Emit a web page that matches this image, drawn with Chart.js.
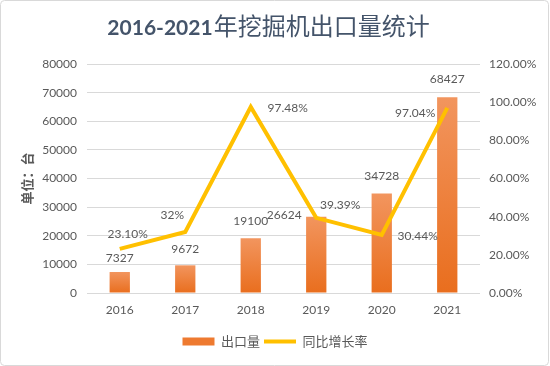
<!DOCTYPE html>
<html>
<head>
<meta charset="utf-8">
<script src="https://cdn.jsdelivr.net/npm/chart.js@4/dist/chart.umd.min.js"></script>
<style>
html,body{margin:0;padding:0;background:#ffffff;}
#wrap{width:550px;height:366px;}
canvas{display:block;}
</style>
</head>
<body>
<div id="wrap"><canvas id="c" width="550" height="366"></canvas></div>
<script>
// ---- data ----
const categories = ['2016', '2017', '2018', '2019', '2020', '2021'];
const exportVolume = [7327, 9672, 19100, 26624, 34728, 68427];
const growthRate = [23.10, 32, 97.48, 39.39, 30.44, 97.04];
const growthLabels = ['23.10%', '32%', '97.48%', '39.39%', '30.44%', '97.04%'];
const seriesNames = ['出口量', '同比增长率'];
const titleParts = ['2016-2021', '年挖掘机出口量统计'];
const yAxisTitle = '单位：台';

// ---- styling ----
const FONT = "Lato, 'Noto Sans CJK SC', sans-serif";
const TXT = '#595959';
const barLabelOffsets = [[0, -14], [0, -16], [0, -17], [-32, -2], [0, -17], [0, -18]];
const lineLabelOffsets = [[8, -15], [-13, -17], [37, 1], [24, -13], [36, 1], [-32, 5]];

const labelPlugin = {
  id: 'valueLabels',
  afterDatasetsDraw(chart) {
    const c = chart.ctx;
    c.save();
    c.font = '12px ' + FONT;
    c.fillStyle = TXT;
    c.textAlign = 'center';
    c.textBaseline = 'middle';
    chart.getDatasetMeta(0).data.forEach((el, i) => {
      const [dx, dy] = barLabelOffsets[i];
      c.fillText(String(exportVolume[i]), el.x + dx, el.y + dy);
    });
    chart.getDatasetMeta(1).data.forEach((el, i) => {
      const [dx, dy] = lineLabelOffsets[i];
      c.fillText(growthLabels[i], el.x + dx, el.y + dy);
    });
    c.restore();
  }
};

const titleFramePlugin = {
  id: 'titleFrame',
  afterDraw(chart) {
    const c = chart.ctx;
    c.save();
    c.strokeStyle = '#D9D9D9';
    c.lineWidth = 1;
    c.beginPath();
    if (c.roundRect) c.roundRect(0.5, 0.5, 548, 365, 4); else c.rect(0.5, 0.5, 548, 365);
    c.stroke();
    c.fillStyle = '#44546A';
    c.textBaseline = 'alphabetic';
    c.textAlign = 'left';
    const f1 = "bold 21px Lato, 'Noto Sans CJK SC', sans-serif";
    const f2 = "24px 'Noto Sans CJK SC', sans-serif";
    c.font = f1; const w1 = c.measureText(titleParts[0]).width;
    c.font = f2; const w2 = c.measureText(titleParts[1]).width;
    let x = 268 - (w1 + w2) / 2;
    c.font = f1; c.fillText(titleParts[0], x, 35);
    c.font = f2; c.fillText(titleParts[1], x + w1 + 1, 35);
    c.restore();
  }
};

function barGradient(ctx) {
  const chart = ctx.chart;
  if (!chart.chartArea || ctx.type !== 'data') return '#EE7A30';
  const ys = chart.scales.y;
  const top = ys.getPixelForValue(ctx.raw);
  const base = ys.getPixelForValue(0);
  const g = chart.ctx.createLinearGradient(0, top, 0, base);
  g.addColorStop(0, '#F2955E');
  g.addColorStop(1, '#E96E1E');
  return g;
}

new Chart(document.getElementById('c'), {
  type: 'bar',
  data: {
    labels: categories,
    datasets: [
      {
        type: 'bar',
        label: seriesNames[0],
        data: exportVolume,
        yAxisID: 'y',
        backgroundColor: barGradient,
        barPercentage: 0.31,
        categoryPercentage: 1,
        order: 2
      },
      {
        type: 'line',
        label: seriesNames[1],
        data: growthRate,
        yAxisID: 'y1',
        borderColor: '#FFC000',
        backgroundColor: '#FFC000',
        borderWidth: 4,
        pointRadius: 0,
        pointHoverRadius: 0,
        tension: 0,
        fill: false,
        order: 1
      }
    ]
  },
  options: {
    responsive: false,
    animation: false,
    devicePixelRatio: 1,
    layout: { padding: { top: 64, bottom: 8, left: 0, right: 0 } },
    plugins: {
      title: { display: false },
      tooltip: { enabled: false },
      legend: {
        position: 'bottom',
        labels: {
          usePointStyle: true,
          pointStyleWidth: 32,
          boxHeight: 8,
          padding: 4,
          color: TXT,
          font: { family: FONT, size: 13 },
          generateLabels(chart) {
            return chart.data.datasets.map((ds, i) => ({
              text: ds.label,
              fillStyle: i === 0 ? '#EE7A30' : '#FFC000',
              strokeStyle: i === 0 ? '#EE7A30' : '#FFC000',
              lineWidth: i === 0 ? 0 : 4,
              pointStyle: i === 0 ? 'rect' : 'line',
              fontColor: TXT,
              hidden: false,
              datasetIndex: i
            }));
          }
        }
      }
    },
    scales: {
      x: {
        grid: { display: false, drawTicks: false },
        border: { display: false },
        ticks: { color: TXT, font: { family: FONT, size: 12 }, padding: 10 },
        afterFit(s) { s.height = 38; }
      },
      y: {
        position: 'left',
        min: 0,
        max: 80000,
        ticks: { stepSize: 10000, color: TXT, font: { family: FONT, size: 12 }, padding: 10, callback: v => String(v) },
        grid: { color: '#D9D9D9', drawTicks: false },
        border: { display: false },
        title: { display: true, text: yAxisTitle, color: TXT, font: { family: FONT, size: 13, weight: 'bold' }, padding: { top: 20, bottom: 0 } },
        afterFit(s) { s.width = 87; }
      },
      y1: {
        position: 'right',
        min: 0,
        max: 120,
        ticks: { stepSize: 20, color: TXT, font: { family: FONT, size: 12 }, padding: 9, callback: v => Number(v).toFixed(2) + '%' },
        grid: { display: false, drawTicks: false },
        border: { display: false },
        afterFit(s) { s.width = 70; }
      }
    }
  },
  plugins: [labelPlugin, titleFramePlugin]
});
</script>
</body>
</html>
